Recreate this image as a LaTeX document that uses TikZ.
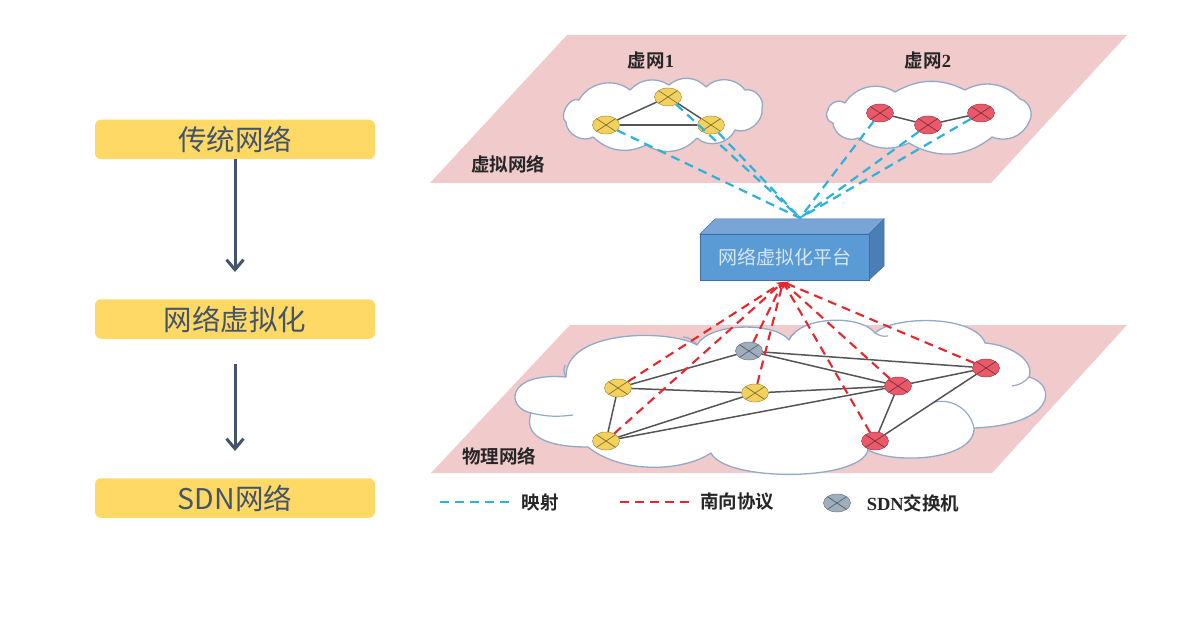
\documentclass[tikz,border=0pt]{standalone}
\usepackage{fontspec}
\setmainfont{Liberation Serif}
\newfontfamily\cjksans{Noto Sans CJK SC}
\newfontfamily\cjkbold{Noto Sans CJK SC Bold}
\newfontfamily\latinbold{Liberation Serif Bold}
\usetikzlibrary{shapes.geometric,arrows.meta}
\definecolor{planecol}{HTML}{F1CACB}
\definecolor{cloudline}{HTML}{93A9C8}
\definecolor{stepfill}{HTML}{FFD966}
\definecolor{steptext}{HTML}{44546A}
\definecolor{mapblue}{HTML}{2DB2DC}
\definecolor{protored}{HTML}{E8262D}
\definecolor{linkgray}{HTML}{555555}
\definecolor{yellownode}{HTML}{F2D15F}
\definecolor{rednode}{HTML}{E9596A}
\definecolor{graynode}{HTML}{9FAEBD}
\definecolor{boxfront}{HTML}{5B9BD5}
\definecolor{boxtop}{HTML}{79A5D6}
\definecolor{boxside}{HTML}{4A7EB5}
\definecolor{boxedge}{HTML}{3F6EA5}
\tikzset{
  plane/.style={fill=planecol,draw=none},
  cloud outline/.style={fill=white,draw=cloudline,line width=1.3pt,line join=round},
  cloud curl/.style={draw=cloudline,line width=1.2pt},
  stepbox/.style={fill=stepfill,draw=none,rounded corners=6pt,minimum width=280pt,minimum height=39.5pt,inner sep=0pt,text=steptext,font=\fontsize{28.5}{30}\selectfont\cjksans},
  flow/.style={draw=steptext,line width=3pt,-{Straight Barb[length=10pt,width=17pt,line width=3pt]}},
  switch/.style={ellipse,draw=#1!70!black,line width=0.5pt,fill=#1,minimum width=27pt,minimum height=18pt,inner sep=0pt,
    path picture={\draw[#1!55!black,line width=0.7pt]
      (path picture bounding box.north west)--(path picture bounding box.south east)
      (path picture bounding box.north east)--(path picture bounding box.south west);}},
  link/.style={draw=linkgray,line width=1.5pt},
  mapline/.style={draw=mapblue,line width=2.2pt,dash pattern=on 9pt off 6pt},
  protoline/.style={draw=protored,line width=2.1pt,dash pattern=on 9pt off 6pt},
  blabel/.style={inner sep=0pt,text=black!85,font=\fontsize{18.5}{20}\selectfont\cjkbold},
}
\begin{document}
\begin{tikzpicture}[x=1pt,y=-1pt]
\useasboundingbox (0,0) rectangle (1195,623);
\fill[white] (0,0) rectangle (1195,623);

% left column
\node[stepbox] (s1) at (235,139.5) {传统网络};
\node[stepbox] (s2) at (235,319) {网络虚拟化};
\node[stepbox] (s3) at (235,498) {SDN网络};
\coordinate (a1end) at (235,272);
\coordinate (a2start) at (235,364);
\coordinate (a2end) at (235,451);
\draw[flow] (s1.south) -- (a1end);
\draw[flow] (a2start) -- (a2end);

% planes
\fill[plane] (567,35) -- (1127,35) -- (991,183) -- (430,183) -- cycle;
\fill[plane] (570,325) -- (1127,325) -- (992,473) -- (431,473) -- cycle;

% virtual clouds
\draw[cloud outline] (579,100) to[bend left=50] (630,90) to[bend left=40] (669,85)
  to[bend left=45] (706,87) to[bend left=50] (745,90) to[bend left=60] (762,108)
  to[bend left=60] (735,130) to[bend left=55] (697,138) to[bend left=40] (646,145)
  to[bend left=35] (593,137) to[bend left=60] (566,122) to[bend left=85] (579,100) -- cycle;
\draw[cloud outline] (845,103) to[bend left=45] (895,92) to[bend left=28] (965,90)
  to[bend left=38] (1020,99) to[bend left=55] (1029,122) to[bend left=45] (992,137)
  to[bend left=35] (909,143) to[bend left=30] (858,138) to[bend left=55] (833,123)
  to[bend left=65] (828,110) to[bend left=60] (845,103) -- cycle;
% physical cloud
\draw[cloud outline] (566,377)
  .. controls (565,329) and (670,329) .. (697,345)
  .. controls (710,322) and (775,322) .. (789,340)
  .. controls (800,316) and (860,314) .. (875,333)
  .. controls (895,315) and (975,315) .. (985,343)
  .. controls (1010,345) and (1035,360) .. (1029,377)
  .. controls (1058,385) and (1055,425) .. (974,428)
  .. controls (975,460) and (895,465) .. (868,450)
  .. controls (860,482) and (725,482) .. (711,453)
  .. controls (680,473) and (620,473) .. (588,447)
  .. controls (555,447) and (522,440) .. (531,413)
  .. controls (506,408) and (505,372) .. (566,377) -- cycle;
\draw[cloud curl] (566,377) to[bend left=25] (565,365);
\draw[cloud curl] (531,413) to[bend right=10] (573,415);
\draw[cloud curl] (697,345) to[bend right=25] (683,337);
\draw[cloud curl] (789,340) to[bend left=25] (795,333);
\draw[cloud curl] (875,333) to[bend right=20] (888,336);
\draw[cloud curl] (1029,377) to[bend left=20] (1012,386);
\draw[cloud curl] (974,428) to[bend right=45] (935,402);
\draw[cloud curl] (868,450) to[bend left=25] (869,438);

% labels
\node[blabel] (l1) at (651,60) {虚网{\latinbold 1}};
\node[blabel] (l2) at (928,60) {虚网{\latinbold 2}};
\node[blabel] (l3) at (508,164) {虚拟网络};
\node[blabel] (l4) at (499,456) {物理网络};

% platform box
\fill[boxtop,draw=boxedge,line width=0.5pt] (700,234) -- (715,219) -- (884,219) -- (869,234) -- cycle;
\fill[boxside,draw=boxedge,line width=0.5pt] (869,234) -- (884,219) -- (884,266) -- (869,280) -- cycle;
\node[fill=boxfront,draw=boxedge,line width=0.5pt,minimum width=169pt,minimum height=46pt,inner sep=0pt,text=white!75!boxfront,font=\fontsize{19}{21}\selectfont\cjksans] (box) at (784.5,257) {网络虚拟化平台};
\coordinate (mapapex) at (800,218);
\coordinate (protoapex) at (783,282);

% virtual switches
\node[switch=yellownode] (a) at (606,125) {};
\node[switch=yellownode] (b) at (668,97) {};
\node[switch=yellownode] (c) at (711,125) {};
\node[switch=rednode] (d) at (880,113) {};
\node[switch=rednode] (e) at (928,125) {};
\node[switch=rednode] (f) at (981,113) {};
\draw[link] (a) -- (b);
\draw[link] (b) -- (c);
\draw[link] (a) -- (c);
\draw[link] (d) -- (e);
\draw[link] (e) -- (f);
\foreach \n in {a,b,c,d,e,f}{\draw[mapline] (\n) -- (mapapex);}

% physical switches
\node[switch=graynode] (g) at (749,351) {};
\node[switch=yellownode] (h) at (618,388) {};
\node[switch=yellownode] (i) at (755,393) {};
\node[switch=rednode] (j) at (898,386) {};
\node[switch=rednode] (k) at (986,368) {};
\node[switch=yellownode] (l) at (606,441) {};
\node[switch=rednode] (m) at (875,441) {};
\draw[link] (g) -- (h);
\draw[link] (g) -- (j);
\draw[link] (g) -- (k);
\draw[link] (h) -- (i);
\draw[link] (h) -- (l);
\draw[link] (i) -- (j);
\draw[link] (i) -- (l);
\draw[link] (l) -- (j);
\draw[link] (j) -- (k);
\draw[link] (j) -- (m);
\draw[link] (k) -- (m);
\foreach \n in {g,h,i,j,k,l,m}{\draw[protoline,-{Stealth[length=6pt,width=6pt]}] (\n) -- (protoapex);}

% legend
\coordinate (lg1a) at (440,502);
\coordinate (lg1b) at (514,502);
\coordinate (lg2a) at (620,502);
\coordinate (lg2b) at (693,502);
\draw[mapline] (lg1a) -- (lg1b);
\draw[protoline] (lg2a) -- (lg2b);
\node[blabel] (t1) at (540,502) {映射};
\node[blabel] (t2) at (737,502) {南向协议};
\node[switch=graynode] (lgsw) at (837,503) {};
\node[blabel] (t3) at (913,503) {{\latinbold SDN}交换机};
\end{tikzpicture}
\end{document}
